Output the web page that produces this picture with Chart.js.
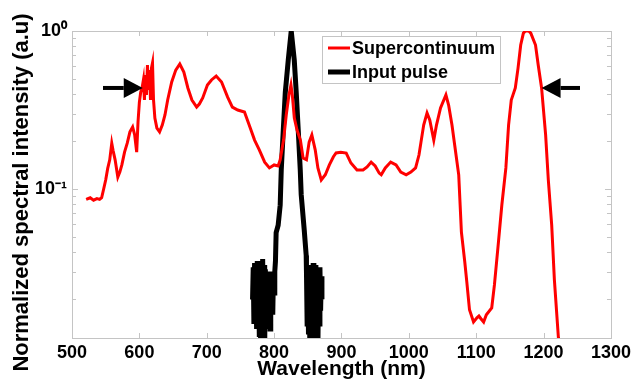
<!DOCTYPE html>
<html><head><meta charset="utf-8">
<script src="https://cdn.jsdelivr.net/npm/chart.js@4/dist/chart.umd.min.js"></script>
<style>html,body{margin:0;padding:0;background:#fff}#wrap{width:635px;height:382px}</style>
</head><body><div id="wrap"><canvas id="c" width="635" height="382"></canvas></div>
<script>
// ---- data ----
const superWavelength = [521,527,532,537,541,544,547,550,553,556,559,561,564,568,571,574,578,582,586,590,593,596,598,600,602,604,606,607.5,609,610.5,612,613.5,615,616.5,618,619.5,621,623,626,630,634,638,642,648,654,660,666,672,678,685,689,694,701,707,714,722,731,738,746,756,763,771,778,786,793,800,806,809,814,818,822,825,827,830,834,839,843,848,852,856,861,865,870,876,882,888,892,899,907,914,923,932,938,944,950,956,959,965,973,981,988,996,1003,1010,1015,1018,1022,1027,1031,1037,1041,1047,1055,1059,1064,1068,1074,1078,1083,1086,1090,1096,1101,1104,1107,1111,1115,1123,1127,1133,1138,1144,1148,1152,1158,1162,1166,1170,1173,1178,1181,1188,1192,1197,1203,1207,1212,1216,1222,1225];
const superIntensity = [0.086,0.088,0.085,0.087,0.086,0.088,0.100,0.114,0.135,0.153,0.195,0.175,0.153,0.119,0.128,0.142,0.171,0.195,0.230,0.247,0.220,0.171,0.266,0.355,0.41,0.436,0.49,0.366,0.527,0.394,0.609,0.423,0.566,0.366,0.583,0.627,0.366,0.281,0.243,0.230,0.254,0.294,0.366,0.476,0.566,0.618,0.550,0.436,0.366,0.330,0.345,0.377,0.455,0.490,0.519,0.476,0.382,0.330,0.316,0.307,0.254,0.204,0.177,0.148,0.136,0.142,0.140,0.153,0.204,0.294,0.394,0.455,0.394,0.281,0.236,0.204,0.157,0.153,0.198,0.220,0.177,0.136,0.114,0.123,0.142,0.160,0.169,0.171,0.169,0.146,0.132,0.132,0.138,0.148,0.140,0.126,0.123,0.136,0.148,0.142,0.128,0.123,0.128,0.136,0.164,0.198,0.254,0.303,0.274,0.204,0.254,0.326,0.394,0.340,0.254,0.190,0.123,0.0534,0.0345,0.0258,0.0172,0.0144,0.0153,0.0157,0.0151,0.0144,0.0160,0.0177,0.0247,0.0462,0.0792,0.136,0.254,0.366,0.436,0.58,0.815,0.97,1.0,1.0,0.97,0.815,0.609,0.436,0.220,0.114,0.0592,0.0266,0.0114,0.009];
const pulseWavelength = [768,769,770,771,772,773,774,775,776,777,778,779,780,781,782,783,784,785,786,787,788,789,790,791,792,793,794,795,796,797,798,799,800,801,802,803,806,809,810.6,813.6,816.6,821,825.4,829.9,832.8,835.8,838.8,840.2,844.7,847.6,848,849,850,851,852,853,854,855,856,857,858,859,860,861,862,863,864,865,866,867,868,869,870,871];
const pulseIntensity = [0.020,0.032,0.014,0.034,0.017,0.030,0.013,0.035,0.016,0.028,0.012,0.033,0.010,0.030,0.009,0.036,0.015,0.033,0.010,0.031,0.018,0.030,0.013,0.029,0.016,0.027,0.013,0.030,0.019,0.028,0.016,0.029,0.022,0.030,0.035,0.053,0.059,0.079,0.132,0.236,0.41,0.655,1.0,0.655,0.41,0.236,0.132,0.092,0.055,0.038,0.030,0.014,0.032,0.012,0.033,0.010,0.030,0.009,0.031,0.012,0.034,0.011,0.030,0.015,0.033,0.013,0.031,0.010,0.028,0.014,0.032,0.017,0.028,0.020];
const seriesNames = ['Supercontinuum', 'Input pulse'];
const xTickValues = [500,600,700,800,900,1000,1100,1200,1300];
const xTickLabels = ['500','600','700','800','900','1000','1100','1200','1300'];
const yTickValues = [0.1, 1];
const yTickLabels = ['10\u207B\u00B9', '10\u2070'];
const arrowTailNm = [546, 1254];
const arrowTipNm = [605, 1197];
const arrowLevel = [0.436, 0.436];
const xTitle = 'Wavelength (nm)';
const yTitle = 'Normalized spectral intensity (a.u)';

const FONT = "'Liberation Sans', Arial, Helvetica, sans-serif";
const AXIS_GREY = '#c4c4c4';

const framePlugin = {
  id: 'frame',
  beforeDatasetsDraw(chart) {
    const {ctx, chartArea: a, scales: {x, y}} = chart;
    ctx.save();
    ctx.strokeStyle = AXIS_GREY;
    ctx.lineWidth = 1;
    ctx.strokeRect(Math.round(a.left) + 0.5, Math.round(a.top) + 0.5, Math.round(a.right - a.left), Math.round(a.bottom - a.top));
    ctx.beginPath();
    xTickValues.slice(1, -1).forEach(v => {
      const px = Math.round(x.getPixelForValue(v)) + 0.5;
      ctx.moveTo(px, a.top); ctx.lineTo(px, a.top + 5);
      ctx.moveTo(px, a.bottom); ctx.lineTo(px, a.bottom - 5);
    });
    for (let d = -2; d <= 0; d++) {
      for (let m = 1; m <= 9; m++) {
        const v = m * Math.pow(10, d);
        if (v < y.min || v > y.max) continue;
        const py = Math.round(y.getPixelForValue(v)) + 0.5;
        const len = m === 1 ? 6 : 4;
        ctx.moveTo(a.left, py); ctx.lineTo(a.left + len, py);
        ctx.moveTo(a.right, py); ctx.lineTo(a.right - len, py);
      }
    }
    ctx.stroke();
    ctx.restore();
  },
  afterDatasetsDraw(chart) {
    const {ctx, chartArea: a, scales: {x, y}} = chart;
    ctx.save();
    // arrows
    ctx.fillStyle = '#000'; ctx.strokeStyle = '#000';
    arrowTipNm.forEach((tipNm, i) => {
      const tx = x.getPixelForValue(tipNm), ty = y.getPixelForValue(arrowLevel[i]);
      const sx = x.getPixelForValue(arrowTailNm[i]);
      const dir = Math.sign(tx - sx);
      const head = 19, half = 10;
      ctx.lineWidth = 4;
      ctx.beginPath(); ctx.moveTo(sx, ty); ctx.lineTo(tx - dir * head, ty); ctx.stroke();
      ctx.beginPath(); ctx.moveTo(tx, ty); ctx.lineTo(tx - dir * head, ty - half); ctx.lineTo(tx - dir * head, ty + half); ctx.closePath(); ctx.fill();
    });
    // legend
    const lx = a.left + 250, ly = a.top + 5, lw = 178, lh = 47;
    ctx.fillStyle = '#fff'; ctx.fillRect(lx, ly, lw, lh);
    ctx.strokeStyle = AXIS_GREY; ctx.lineWidth = 1;
    ctx.strokeRect(lx + 0.5, ly + 0.5, lw, lh);
    const ds = chart.data.datasets;
    [0, 1].forEach(i => {
      const rowY = ly + 12 + i * 24;
      ctx.strokeStyle = ds[i].borderColor; ctx.lineWidth = ds[i].borderWidth;
      ctx.beginPath(); ctx.moveTo(lx + 6, rowY); ctx.lineTo(lx + 28, rowY); ctx.stroke();
      ctx.fillStyle = '#000'; ctx.font = 'bold 18px ' + FONT;
      ctx.textAlign = 'left'; ctx.textBaseline = 'middle';
      ctx.fillText(seriesNames[i], lx + 30, rowY + 1);
    });
    // y axis title
    ctx.translate(22, (a.top + a.bottom) / 2 + 8);
    ctx.rotate(-Math.PI / 2);
    ctx.fillStyle = '#000'; ctx.font = 'bold 22px ' + FONT;
    ctx.textAlign = 'center'; ctx.textBaseline = 'middle';
    ctx.fillText(yTitle, 0, 0);
    ctx.restore();
  }
};

new Chart(document.getElementById('c'), {
  type: 'line',
  data: {
    datasets: [
      { label: seriesNames[0], data: superWavelength.map((w, i) => ({x: w, y: superIntensity[i]})),
        borderColor: '#ff0000', borderWidth: 3, pointRadius: 0, tension: 0, order: 0, fill: false },
      { label: seriesNames[1], data: pulseWavelength.map((w, i) => ({x: w, y: pulseIntensity[i]})),
        borderColor: '#000000', borderWidth: 5, pointRadius: 0, tension: 0, order: 1, fill: false }
    ]
  },
  options: {
    responsive: false, animation: false, devicePixelRatio: 1,
    layout: { padding: { top: 31, right: 22, left: 0, bottom: 0 } },
    plugins: { legend: { display: false }, tooltip: { enabled: false } },
    scales: {
      x: {
        type: 'linear', min: 500, max: 1300,
        afterFit(s) { s.height = 44; },
        afterBuildTicks(s) { s.ticks = xTickValues.map(v => ({value: v})); },
        grid: { display: false, drawTicks: false }, border: { display: false },
        ticks: { autoSkip: false, maxRotation: 0, padding: 4, color: '#000', font: { family: FONT, size: 18, weight: 'bold' },
          callback(v) { const i = xTickValues.indexOf(v); return i >= 0 ? xTickLabels[i] : ''; } },
        title: { display: true, text: xTitle, color: '#000', padding: { top: 0, bottom: 0 }, font: { family: FONT, size: 21, weight: 'bold' } }
      },
      y: {
        type: 'logarithmic', min: 0.0114, max: 1,
        afterFit(s) { s.width = 72; },
        afterBuildTicks(s) { s.ticks = yTickValues.map(v => ({value: v})); },
        grid: { display: false, drawTicks: false }, border: { display: false },
        ticks: { autoSkip: false, padding: 5, color: '#000', font: { family: FONT, size: 18, weight: 'bold' },
          callback(v) { const i = yTickValues.indexOf(v); return i >= 0 ? yTickLabels[i] : ''; } }
      }
    }
  },
  plugins: [framePlugin]
});
</script></body></html>
